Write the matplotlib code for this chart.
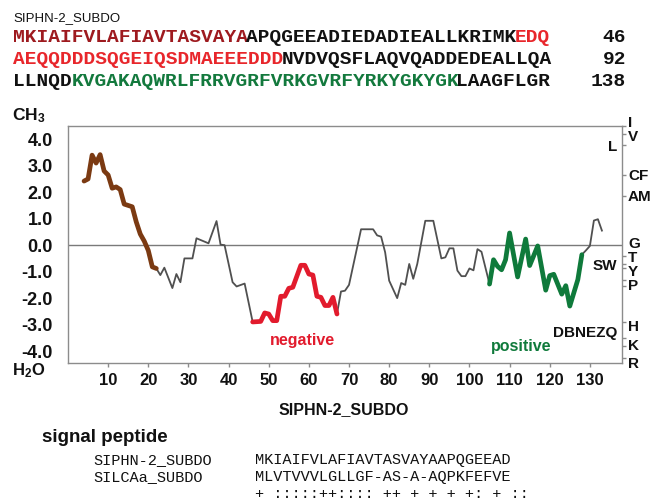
import matplotlib
matplotlib.use('Agg')
import matplotlib.pyplot as plt
from matplotlib.transforms import blended_transform_factory

W, H = 653, 501
plt.rcParams['font.family'] = ['Liberation Sans', 'DejaVu Sans']
plt.rcParams['mathtext.fontset'] = 'custom'
plt.rcParams['mathtext.rm'] = 'Liberation Sans:bold'
plt.rcParams['mathtext.bf'] = 'Liberation Sans:bold'
plt.rcParams['mathtext.it'] = 'Liberation Sans:bold'

# ---------------- data ----------------
protein_name = "SIPHN-2_SUBDO"
# sequence rows split into coloured segments (text, colour key)
row1 = [("MKIAIFVLAFIAVTASVAYA", "signal"), ("APQGEEADIEDADIEALLKRIMK", "plain"), ("EDQ", "neg")]
row2 = [("AEQQDDDSQGEIQSDMAEEEDDD", "neg"), ("NVDVQSFLAQVQADDEDEALLQA", "plain")]
row3 = [("LLNQD", "plain"), ("KVGAKAQWRLFRRVGRFVRKGVRFYRKYGKYGK", "pos"), ("LAAGFLGR", "plain")]
row_ends = ["46", "92", "138"]

# hydropathy profile (residue position, value)
positions = [4, 5, 6, 7, 8, 9, 10, 11, 12, 13, 14, 15, 16, 17, 18, 19, 20, 21, 22,
             23, 24, 26, 27, 28, 29, 31, 32, 35, 37, 38, 39, 41, 42, 44,
             46, 48, 49, 50, 51, 52, 53, 54, 55, 56, 58, 59, 60, 61, 62, 63, 64, 65, 66, 67,
             68, 69, 70, 73, 76, 77, 78, 79, 80, 82, 83, 84, 85, 86, 87, 89, 91, 93, 94, 95, 96,
             97, 98, 99, 100, 101, 102, 103,
             105, 106, 107, 108, 109, 110, 112, 114, 115, 117, 119, 120, 121, 123, 124, 125, 127, 128,
             129, 130, 131, 132, 133]
hydropathy = [2.42, 2.5, 3.4, 3.1, 3.42, 2.8, 2.65, 2.15, 2.2, 2.1, 1.55, 1.5, 1.45, 0.88, 0.42, 0.15, -0.2, -0.82, -0.88,
              -1.13, -0.85, -1.62, -1.09, -1.4, -0.5, -0.5, 0.26, 0.07, 0.91, 0.02, 0.0, -1.4, -1.56, -1.45,
              -2.9, -2.88, -2.56, -2.6, -2.85, -2.85, -1.93, -1.93, -1.63, -1.59, -0.76, -0.76, -1.09, -1.13, -1.93, -1.97, -2.28, -2.28, -1.97, -2.6,
              -1.75, -1.72, -1.5, 0.6, 0.6, 0.37, 0.32, -0.27, -1.34, -2.0, -1.43, -1.5, -0.71, -1.27, -0.71, 0.92, 0.92, -0.5, -0.46, -0.12, -0.12,
              -0.96, -1.17, -1.17, -0.88, -0.95, -0.15, -0.25,
              -1.47, -0.55, -0.8, -0.93, -0.55, 0.46, -1.2, 0.23, -0.77, -0.03, -1.7, -1.15, -1.1, -1.85, -1.53, -2.3, -1.3, -0.36,
              -0.2, -0.03, 0.93, 0.98, 0.55]

# highlighted regions (first, last residue position)
signal_region = (4, 22)
negative_region = (46, 67)
positive_region = (105, 128)

y_ticks = [-4, -3, -2, -1, 0, 1, 2, 3, 4]
y_ticklabels = ["-4.0", "-3.0", "-2.0", "-1.0", "0.0", "1.0", "2.0", "3.0", "4.0"]
x_ticks = [10, 20, 30, 40, 50, 60, 70, 80, 90, 100, 110, 120, 130]

# right-side amino-acid scale (label, label y, tick y, side)
aa_labels = ["I", "V", "L", "CF", "AM", "G", "T", "SW", "Y", "P", "H", "DBNEZQ", "K", "R"]
aa_label_y = [4.62, 4.1, 3.72, 2.63, 1.8, 0.03, -0.47, -0.8, -1.0, -1.53, -3.08, -3.3, -3.8, -4.5]
aa_tick_y = [4.5, 4.2, 3.8, 2.65, 1.85, -0.4, -0.7, -0.88, -1.3, -1.55, -2.9, -3.5, -3.8, -4.25]
aa_inside = [False, False, True, False, False, False, False, True, False, False, False, True, False, False]

align_names = ["SIPHN-2_SUBDO", "SILCAa_SUBDO", ""]
align_seqs = ["MKIAIFVLAFIAVTASVAYAAPQGEEAD",
              "MLVTVVVLGLLGF-AS-A-AQPKFEFVE",
              "+ :::::++:::: ++ + + + +: + ::"]

# ---------------- styling ----------------
C_SIGNAL = "#7B3A12"
C_NEG = "#E21B2D"
C_POS = "#0F7A3B"
C_LINE = "#505050"
C_SPINE = "#8C8C8C"
seg_colors = {"signal": "#9E1A1F", "plain": "#111111", "neg": "#E8262B", "pos": "#13793D"}


def fx(x):
    return x / W


def fy(y):
    return 1 - y / H


fig = plt.figure(figsize=(W / 100, H / 100), dpi=100)
fig.patch.set_facecolor("white")

# top sequence block
fig.text(fx(13), fy(18), protein_name, fontsize=9.5, va="center", ha="left", color="#111111")
mono_size = 14.0
char_px = 0.6001 * mono_size * 100 / 72
for row, yy, end in zip([row1, row2, row3], [37, 59, 81], row_ends):
    k = 0
    for txt, key in row:
        fig.text(fx(13 + k * char_px), fy(yy), txt, fontsize=mono_size, family="Liberation Mono",
                 fontweight="bold", color=seg_colors[key], va="center", ha="left")
        k += len(txt)
    fig.text(fx(626), fy(yy), end, fontsize=mono_size, family="Liberation Mono",
             fontweight="bold", color="#111111", va="center", ha="right")

# plot axes
ax = fig.add_axes([fx(68), fy(363), (622 - 68) / W, (363 - 126) / H])
ax.set_xlim(0, 138)
ax.set_ylim(-4.45, 4.5)
ax.axhline(0, color="#7a7a7a", lw=1.0, zorder=1)

ax.plot(positions, hydropathy, color=C_LINE, lw=1.3, zorder=2, solid_joinstyle="round")
for (a, b), col in [(signal_region, C_SIGNAL), (negative_region, C_NEG), (positive_region, C_POS)]:
    xs = [p for p in positions if a <= p <= b]
    ys = [v for p, v in zip(positions, hydropathy) if a <= p <= b]
    ax.plot(xs, ys, color=col, lw=3.4, zorder=3, solid_joinstyle="round", solid_capstyle="round")

for s in ax.spines.values():
    s.set_color(C_SPINE)
    s.set_linewidth(1.0)

ax.set_xticks(x_ticks)
ax.set_xticklabels([str(t) for t in x_ticks], fontsize=12, fontweight="bold")
ax.set_yticks(y_ticks)
ax.set_yticklabels(y_ticklabels, fontsize=13, fontweight="bold")
ax.tick_params(axis="both", colors=C_SPINE, length=3, width=1, direction="out", labelcolor="#111111")
ax.tick_params(axis="x", pad=4)
ax.tick_params(axis="y", pad=11, length=0)

ax2 = ax.twinx()
ax2.set_ylim(ax.get_ylim())
ax2.set_yticks(aa_tick_y)
ax2.set_yticklabels([])
ax2.tick_params(axis="y", colors=C_SPINE, length=3, width=1, direction="out")
for s in ax2.spines.values():
    s.set_visible(False)

tr = blended_transform_factory(ax.transAxes, ax.transData)
for lab, ly, inside in zip(aa_labels, aa_label_y, aa_inside):
    if inside:
        ax.text(0.992, ly, lab, transform=tr, ha="right", va="center", fontsize=11,
                fontweight="bold", color="#111111", clip_on=False, zorder=5)
    else:
        ax.text(1.011, ly, lab, transform=tr, ha="left", va="center", fontsize=11,
                fontweight="bold", color="#111111", clip_on=False, zorder=5)

# axis end labels
fig.text(fx(12), fy(116), r"$\mathbf{CH_3}$", fontsize=12.5, ha="left", va="center", color="#111111")
fig.text(fx(12), fy(371), r"$\mathbf{H_2O}$", fontsize=12, ha="left", va="center", color="#111111")

# region labels
fig.text(fx(302), fy(341), "negative", fontsize=11.5, fontweight="bold", color=C_NEG, ha="center", va="center")
fig.text(fx(521), fy(346), "positive", fontsize=11.5, fontweight="bold", color=C_POS, ha="center", va="center")

# x title
fig.text(fx(344), fy(410), protein_name, fontsize=11.5, fontweight="bold", ha="center", va="center", color="#111111")

# signal peptide alignment
fig.text(fx(42), fy(437), "signal peptide", fontsize=13.5, fontweight="bold", ha="left", va="center", color="#111111")
al_size = 11.0
for name, seq, yy in zip(align_names, align_seqs, [460, 477, 494]):
    if name:
        fig.text(fx(93), fy(yy), name, fontsize=al_size, family="Liberation Mono", ha="left", va="center", color="#111111")
    fig.text(fx(255), fy(yy), seq, fontsize=al_size, family="Liberation Mono", ha="left", va="center", color="#111111")

fig.savefig("out.png", dpi=100)
